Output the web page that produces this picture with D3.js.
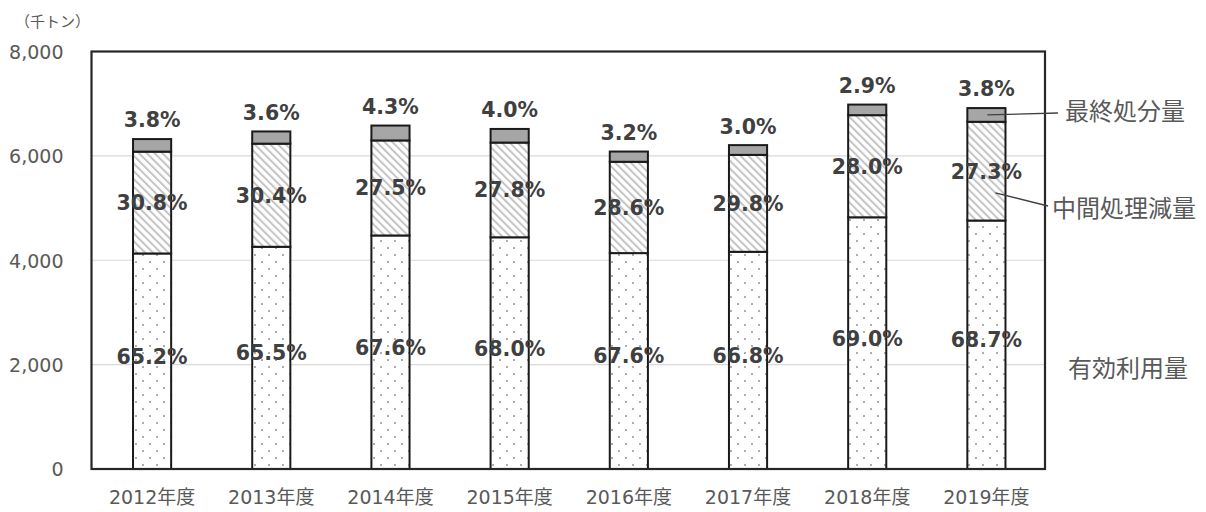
<!DOCTYPE html>
<html><head><meta charset="utf-8">
<script src="https://cdn.jsdelivr.net/npm/d3@7"></script>
<style>
html,body{margin:0;padding:0;background:#fff;}
svg{display:block;}
</style></head>
<body>
<svg id="chart" width="1206" height="512"></svg>
<script>
// ---- data ----
const years = ["2012年度","2013年度","2014年度","2015年度","2016年度","2017年度","2018年度","2019年度"];
const effective    = [4130, 4258, 4475, 4440, 4137, 4162, 4823, 4761]; // 有効利用量
const intermediate = [1951, 1976, 1821, 1815, 1750, 1857, 1957, 1892]; // 中間処理減量
const finalDisp    = [ 241,  234,  285,  261,  196,  187,  203,  263]; // 最終処分量
const effPct  = ["65.2%","65.5%","67.6%","68.0%","67.6%","66.8%","69.0%","68.7%"];
const midPct  = ["30.8%","30.4%","27.5%","27.8%","28.6%","29.8%","28.0%","27.3%"];
const finPct  = ["3.8%","3.6%","4.3%","4.0%","3.2%","3.0%","2.9%","3.8%"];
const yTicks  = [0, 2000, 4000, 6000, 8000];
const seriesNames = ["有効利用量","中間処理減量","最終処分量"];
const unitLabel = "（千トン）";

// ---- layout ----
const svg = d3.select("#chart");
const L = 91.5, R = 1045, T = 51.5, B = 469;
const x = d3.scaleBand().domain(years).range([L+1, R+1]).paddingInner(0.68).paddingOuter(0.34);
const y = d3.scaleLinear().domain([0, 8000]).range([B, T]);

const defs = svg.append("defs");
const dots = defs.append("pattern").attr("id","dots").attr("patternUnits","userSpaceOnUse")
  .attr("width",14).attr("height",14);
dots.append("rect").attr("width",14).attr("height",14).attr("fill","#fff");
dots.append("circle").attr("cx",3).attr("cy",3).attr("r",0.95).attr("fill","#8a8a8a");
dots.append("circle").attr("cx",10).attr("cy",10).attr("r",0.95).attr("fill","#8a8a8a");

const hatch = defs.append("pattern").attr("id","hatch").attr("patternUnits","userSpaceOnUse")
  .attr("width",5.5).attr("height",5.5).attr("patternTransform","rotate(-45)");
hatch.append("rect").attr("width",5.5).attr("height",5.5).attr("fill","#fff");
hatch.append("line").attr("x1",1).attr("y1",0).attr("x2",1).attr("y2",5.5)
  .attr("stroke","#c4c4c4").attr("stroke-width",2);

// gridlines
svg.append("g").selectAll("line").data(yTicks.filter(d => d > 0 && d < 8000)).join("line")
  .attr("x1", L).attr("x2", R).attr("y1", d => y(d)).attr("y2", d => y(d))
  .attr("stroke","#d9d9d9").attr("stroke-width",1.2);

// y axis labels
const yAxis = d3.axisLeft(y).tickValues(yTicks).tickFormat(d3.format(",")).tickSize(0).tickPadding(0);
const yg = svg.append("g").attr("transform", `translate(${L-28},0)`).call(yAxis);
yg.select(".domain").remove();
yg.selectAll("text").attr("font-family","'DejaVu Sans', sans-serif").attr("font-size",19)
  .attr("fill","#595959").attr("dy","0.36em");

// x axis labels
const xAxis = d3.axisBottom(x).tickSize(0).tickPadding(0);
const xg = svg.append("g").attr("transform", `translate(0,${B+21})`).call(xAxis);
xg.select(".domain").remove();
xg.selectAll("text").attr("font-family","'DejaVu Sans', 'Noto Sans CJK JP', sans-serif").attr("font-size",19)
  .attr("fill","#595959");

// stacked bars
const rows = years.map((yr, i) => ({yr, i, eff: effective[i], mid: intermediate[i], fin: finalDisp[i]}));
const stack = d3.stack().keys(["eff","mid","fin"])(rows);
const fills = {eff: "url(#dots)", mid: "url(#hatch)", fin: "#a6a6a6"};
stack.forEach(layer => {
  svg.append("g").selectAll("rect").data(layer).join("rect")
    .attr("x", d => x(d.data.yr)).attr("width", x.bandwidth())
    .attr("y", d => y(d[1])).attr("height", d => y(d[0]) - y(d[1]))
    .attr("fill", fills[layer.key]).attr("stroke","#1a1a1a").attr("stroke-width",2);
});

// frame
svg.append("rect").attr("x", L).attr("y", T).attr("width", R - L).attr("height", B - T)
  .attr("fill","none").attr("stroke","#262626").attr("stroke-width",2.2);

// percentage labels
const lblFont = "'DejaVu Sans', sans-serif";
function pctLabels(arr, posFn) {
  svg.append("g").selectAll("text").data(rows).join("text")
    .attr("x", d => x(d.yr) + x.bandwidth()/2).attr("y", posFn)
    .attr("text-anchor","middle").attr("dy","0.36em")
    .attr("font-family", lblFont).attr("font-weight","bold").attr("font-size",20.5)
    .attr("fill","#404040").text(d => arr[d.i]);
}
pctLabels(effPct, d => y(d.eff/2) - 5);
pctLabels(midPct, d => y(d.eff + d.mid/2));
pctLabels(finPct, d => y(d.eff + d.mid + d.fin) - 19);

// unit label
svg.append("text").attr("x", 15).attr("y", 22).attr("dy","0.36em")
  .attr("font-family","'Noto Sans CJK JP', sans-serif").attr("font-size",15)
  .attr("fill","#595959").text(unitLabel);

// legend labels with leader lines
const last = rows[rows.length - 1];
const cx = x(last.yr) + x.bandwidth()/2;
const legendFont = "'Noto Sans CJK JP', sans-serif";
const legend = [
  {name: seriesNames[2], tx: 1065, ty: 111, lx1: 1058, ly1: 113, lx2: cx + 1, ly2: y(last.eff + last.mid + last.fin/2)},
  {name: seriesNames[1], tx: 1052, ty: 208, lx1: 1048, ly1: 206, lx2: cx + 9, ly2: y(last.eff + last.mid*0.28)},
  {name: seriesNames[0], tx: 1068, ty: 368}
];
legend.forEach(l => {
  if (l.lx1) svg.append("line").attr("x1", l.lx1).attr("y1", l.ly1).attr("x2", l.lx2).attr("y2", l.ly2)
    .attr("stroke","#404040").attr("stroke-width",1.3);
  svg.append("text").attr("x", l.tx).attr("y", l.ty).attr("dy","0.36em")
    .attr("font-family", legendFont).attr("font-size",24).attr("fill","#595959").text(l.name);
});
</script>
</body></html>
